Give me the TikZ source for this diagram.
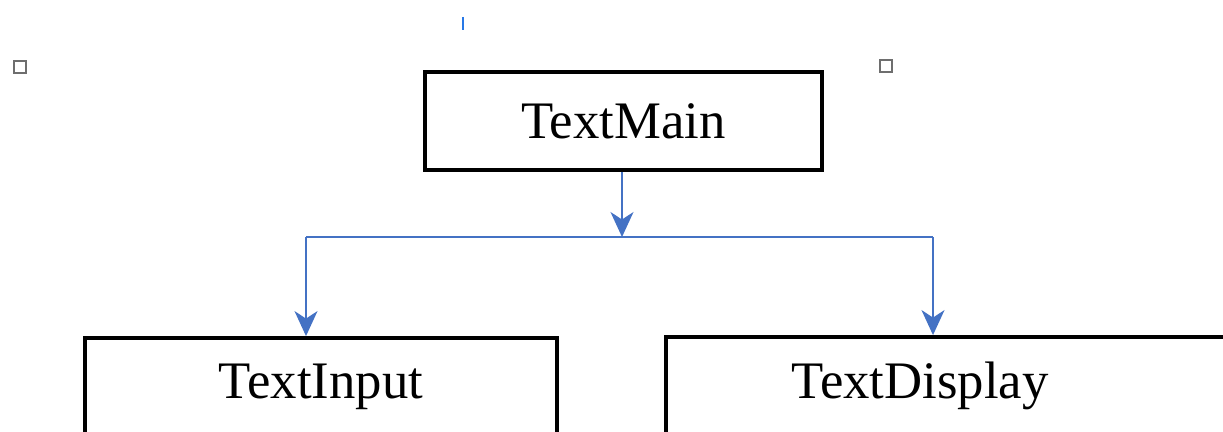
\documentclass[tikz,border=0pt]{standalone}
\usepackage{fontspec}
\setmainfont{Liberation Serif}
\usetikzlibrary{arrows.meta}
\definecolor{linkblue}{RGB}{68,114,196}
\definecolor{handlegray}{RGB}{110,110,110}
\definecolor{cursorblue}{RGB}{40,120,230}

\begin{document}
\begin{tikzpicture}[x=0.02cm,y=-0.02cm,
  module/.style={draw=black,line width=2.2pt,fill=white,minimum height=1.96cm,inner sep=0pt,font=\fontsize{30}{36}\selectfont},
  link/.style={draw=linkblue,line width=1pt},
  tip/.style={-{Stealth[length=5mm,width=4.6mm,inset=1.5mm]}},
  handle/.style={draw=handlegray,line width=1pt,minimum size=0.23cm,inner sep=0pt}]
\useasboundingbox (0,0) rectangle (1223,432);
\clip (0,0) rectangle (1223,432);
% module structure
\node[module,minimum width=7.94cm] (main) at (623.5,121) {TextMain};
\node[module,minimum width=9.44cm] (input) at (321,387) {TextInput};
\node[module,minimum width=11.48cm] (display) at (953,386) {TextDisplay\hspace*{1.32cm}};

% branch line
\coordinate (split) at (622,237);
\coordinate (left) at (306,237);
\coordinate (right) at (933,237);
\draw[link,tip] (main.south -| split) -- (split);
\draw[link] (left) -- (right);
\draw[link,tip] (left) -- (left |- input.north);
\draw[link,tip] (right) -- (right |- display.north);

% selection handles
\node[handle] (h1) at (20,67) {};
\node[handle] (h2) at (886,66) {};
\draw[cursorblue,line width=1pt] (463,17) -- (463,30);
\end{tikzpicture}
\end{document}
